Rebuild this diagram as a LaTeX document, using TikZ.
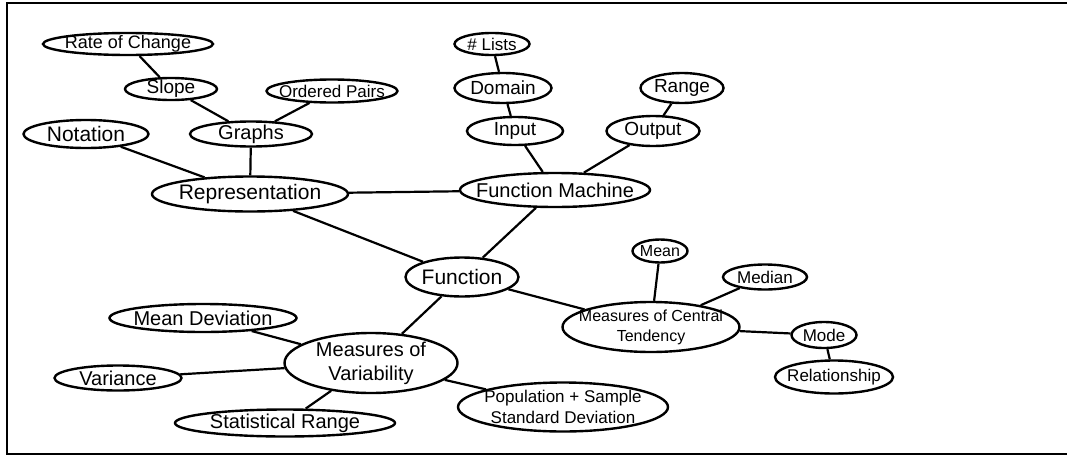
\documentclass[tikz,border=0pt]{standalone}
\usepackage{fontspec}
\setmainfont{Liberation Sans}
\usetikzlibrary{shapes,positioning}

\begin{document}
\begin{tikzpicture}[x=1pt, y=-1pt,
    bubble/.style 2 args={draw=black, ellipse, line width=2.4pt, inner sep=0pt, minimum width=#1pt, minimum height=#2pt},
    every label/.style={font=\fontsize{19}{21}\selectfont, align=center, inner sep=0pt},
    big/.style={font=\fontsize{21}{23}\selectfont},
    small/.style={font=\fontsize{17}{19}\selectfont},
    line/.style={draw=black, line width=2.2pt}
]
    \useasboundingbox (0,0) rectangle (1067,455);
    \draw [line width=2.4pt] (1067,3) -- (7,3) -- (7,454) -- (1067,454);

    % representation branch
    \node [bubble={170}{22}, label={[font=\fontsize{18}{20}\selectfont]center:Rate of Change}] (rate) at (128,44) {};
    \node [bubble={92}{22}, label=center:Slope] (slope) at (171,89) {};
    \node [bubble={131}{23}, label={[small]center:Ordered Pairs}] (pairs) at (332,91) {};
    \node [bubble={125}{28}, label={[big]center:Notation}] (notation) at (86,134) {};
    \node [bubble={122}{25}, label={[font=\fontsize{20}{22}\selectfont]center:Graphs}] (graphs) at (251,134) {};
    \node [bubble={196}{35}, label={[big]center:Representation}] (repr) at (250,194) {};

    % function machine branch
    \node [bubble={75}{22}, label={[small]center:\# Lists}] (lists) at (492,44) {};
    \node [bubble={97}{30}, label=center:Domain] (domain) at (503,88) {};
    \node [bubble={83}{30}, label=center:Range] (range) at (682,88) {};
    \node [bubble={96}{28}, label=center:Input] (input) at (515,131) {};
    \node [bubble={93}{30}, label=center:Output] (output) at (653,131) {};
    \node [bubble={190}{34}, label={[font=\fontsize{20}{22}\selectfont]center:Function Machine}] (machine) at (555,190) {};

    \node [bubble={113}{39}, label={[big]center:Function}] (function) at (462,277) {};

    % central tendency branch
    \node [bubble={55}{23}, label={[font=\fontsize{16}{18}\selectfont]center:Mean}] (mean) at (660,251) {};
    \node [bubble={84}{25}, label={[small]center:Median}] (median) at (765,277) {};
    \node [bubble={177}{50}, label={[font=\fontsize{16}{20}\selectfont]center:Measures of Central\\Tendency}] (central) at (651,327) {};
    \node [bubble={65}{26}, label={[small]center:Mode}] (mode) at (824,335) {};
    \node [bubble={118}{33}, label={[small]center:Relationship}] (relation) at (834,377) {};

    % variability branch
    \node [bubble={187}{28}, label={[font=\fontsize{20}{22}\selectfont]center:Mean Deviation}] (meandev) at (203,318) {};
    \node [bubble={173}{60}, label={[font=\fontsize{20}{24}\selectfont]center:Measures of\\Variability}] (variab) at (371,363) {};
    \node [bubble={127}{25}, label={[font=\fontsize{20}{22}\selectfont]center:Variance}] (variance) at (118,378) {};
    \node [bubble={220}{27}, label={[font=\fontsize{20}{22}\selectfont]center:Statistical Range}] (statrange) at (285,423) {};
    \node [bubble={210}{49}, label={[font=\fontsize{17}{21}\selectfont]center:Population + Sample\\Standard Deviation}] (stdev) at (563,407) {};

    \path [line] (rate) -- (slope);
    \path [line] (slope) -- (graphs);
    \path [line] (pairs) -- (graphs);
    \path [line] (graphs) -- (repr);
    \path [line] (notation) -- (repr);
    \path [line] (repr) -- (machine);
    \path [line] (repr) -- (function);
    \path [line] (lists) -- (domain);
    \path [line] (domain) -- (input);
    \path [line] (input) -- (machine);
    \path [line] (range) -- (output);
    \path [line] (output) -- (machine);
    \path [line] (machine) -- (function);
    \path [line] (function) -- (central);
    \path [line] (mean) -- (central);
    \path [line] (median) -- (central);
    \path [line] (central) -- (mode);
    \path [line] (mode) -- (relation);
    \path [line] (function) -- (variab);
    \path [line] (variab) -- (meandev);
    \path [line] (variab) -- (variance);
    \path [line] (variab) -- (statrange);
    \path [line] (variab) -- (stdev);
\end{tikzpicture}
\end{document}
